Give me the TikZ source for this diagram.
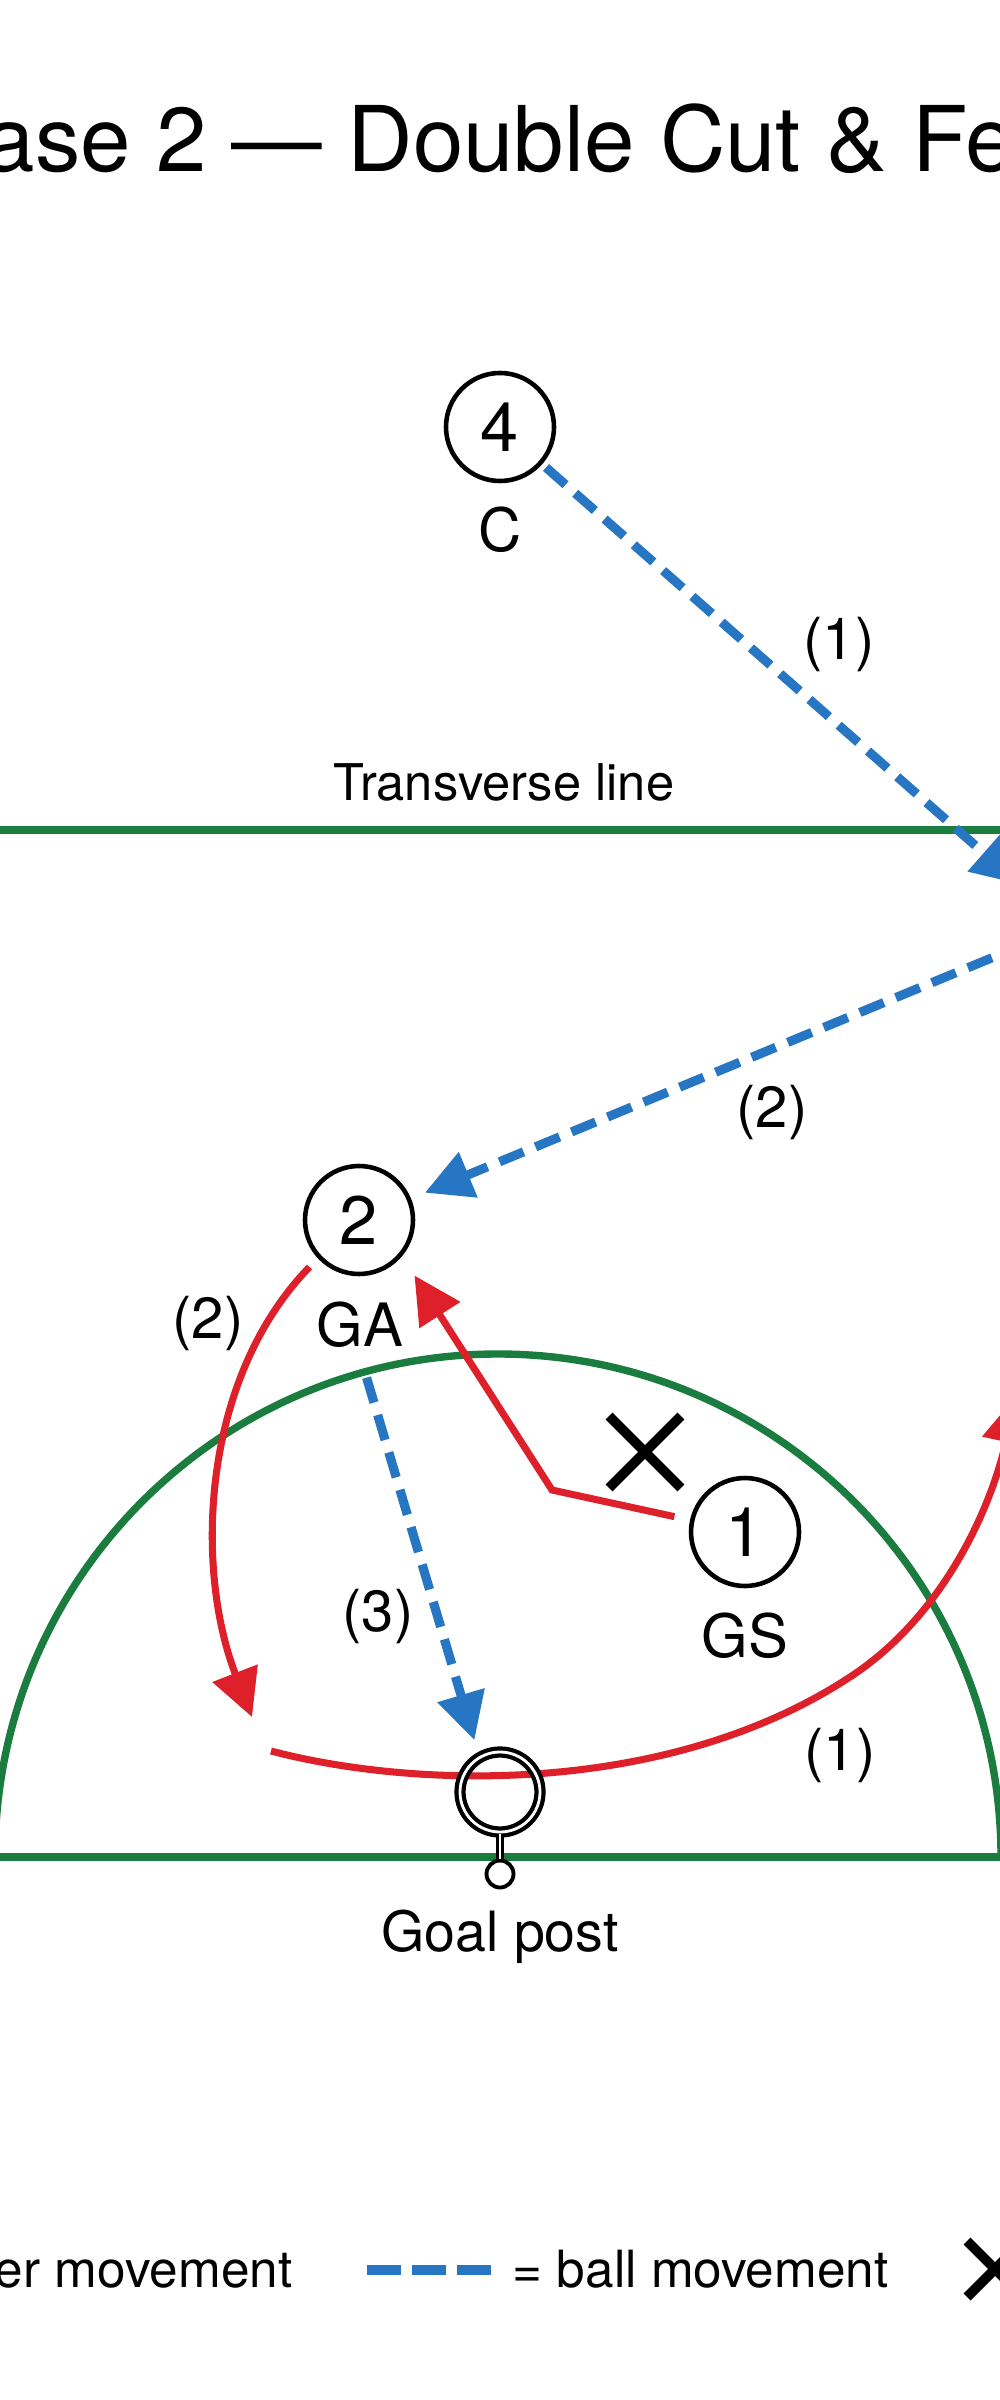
\documentclass[tikz,border=0pt]{standalone}
\usepackage{fontspec}
\setmainfont{TeX Gyre Heros}
\usetikzlibrary{arrows.meta,shapes.misc}
\definecolor{courtgreen}{RGB}{26,124,62}
\definecolor{runred}{RGB}{221,32,41}
\definecolor{passblue}{RGB}{39,118,196}
\begin{document}
\begin{tikzpicture}[
  spot/.style={draw, circle, line width=1.3pt, minimum size=1.08cm, inner sep=0pt,
    font=\fontsize{19.5}{20}\selectfont},
  role/.style={inner sep=2pt, font=\fontsize{17}{18}\selectfont},
  stage/.style={font=\fontsize{16.5}{18}\selectfont},
  court/.style={draw=courtgreen, line width=2.1pt},
  run/.style={draw=runred, line width=2.0pt, -{Triangle[length=0.47cm, width=0.47cm]}},
  pass/.style={draw=passblue, line width=2.6pt, dash pattern=on 0.26cm off 0.13cm,
    -{Triangle[length=0.47cm, width=0.47cm]}},
  guard/.style={cross out, draw, line width=2.8pt, minimum size=0.62cm, inner sep=0pt}
]
\useasboundingbox (0,0) rectangle (10,-24);
\fill[white] (0,0) rectangle (10,-24);
\clip (0,0) rectangle (10,-24);
\node[font=\fontsize{25.8}{30}\selectfont, anchor=base west, inner sep=0pt] (title) at (-0.16,-1.72) {ase 2 — Double Cut \& Fe};
% court
\draw[court] (0,-8.30) -- (10,-8.30);
\draw[court] (0,-18.57) -- (10,-18.57);
\draw[court] (-0.05,-18.57) arc[start angle=180, end angle=0, radius=5.03];
\node[font=\fontsize{14.4}{16}\selectfont, anchor=base] (tline) at (5.04,-8.01) {Transverse line};
% run (1) passes under the goal ring
\coordinate (s1) at (2.71,-17.51);
\coordinate (e1) at (10.16,-13.96);
\draw[run] (s1) .. controls (4.20,-17.90) and (6.70,-17.95) .. (8.50,-16.77) .. controls (9.45,-16.15) and (9.92,-15.05) .. (e1);
% goal post
\node[circle, draw, double=white, double distance=0.8pt, line width=1.2pt, minimum size=0.80cm, inner sep=0pt] (goal) at (5.00,-17.92) {};
\node[circle, draw, fill=white, line width=1.1pt, minimum size=0.27cm, inner sep=0pt] (base) at (5.00,-18.74) {};
\draw[double=white, double distance=0.6pt, line width=0.8pt] (goal.south) -- (base.north);
\node[font=\fontsize{15.8}{18}\selectfont, anchor=base] (glabel) at (5.00,-19.51) {Goal post};
% players
\node[spot] (p4) at (5.00,-4.27) {4};
\node[role] (c) at (5.00,-5.30) {C};
\node[spot] (p2) at (3.59,-12.20) {2};
\node[role] (ga) at (3.60,-13.25) {GA};
\node[spot] (p1) at (7.45,-15.32) {1};
\node[role] (gs) at (7.45,-16.36) {GS};
\node[guard] (x1) at (6.45,-14.52) {};
% movements
\coordinate (t1) at (10.19,-8.84);
\coordinate (s2) at (11.00,-9.13);
\coordinate (bend) at (5.52,-14.90);
\coordinate (cut) at (2.52,-17.17);
\draw[pass, shorten <=0.05cm] (p4) -- (t1);
\draw[pass, shorten >=0.15cm] (s2) -- (p2);
\draw[run, shorten <=0.16cm, shorten >=0.23cm] (p1) -- (bend) -- (p2.-40);
\draw[run, shorten <=0.12cm] (p2.223) .. controls (2.00,-13.80) and (1.95,-15.70) .. (cut);
\draw[pass, shorten <=0.23cm, shorten >=0.16cm] (ga.south) -- (goal.120);
\node[stage] (n1) at (8.39,-6.45) {(1)};
\node[stage] (n2) at (7.72,-11.13) {(2)};
\node[stage] (n2b) at (2.08,-13.23) {(2)};
\node[stage] (n3) at (3.78,-16.16) {(3)};
\node[stage] (n1b) at (8.40,-17.55) {(1)};
% legend
\node[font=\fontsize{14.6}{16}\selectfont, anchor=base east, inner sep=0pt] (lg1) at (2.93,-22.87) {er movement};
\coordinate (d1) at (3.67,-22.70);
\coordinate (d2) at (4.91,-22.70);
\draw[draw=passblue, line width=2.8pt, dash pattern=on 0.34cm off 0.11cm] (d1) -- (d2);
\node[font=\fontsize{14.6}{16}\selectfont, anchor=base west, inner sep=0pt] (lg2) at (5.12,-22.87) {= ball movement};
\node[guard, minimum size=0.46cm] (lg3) at (9.95,-22.69) {};
\end{tikzpicture}
\end{document}
